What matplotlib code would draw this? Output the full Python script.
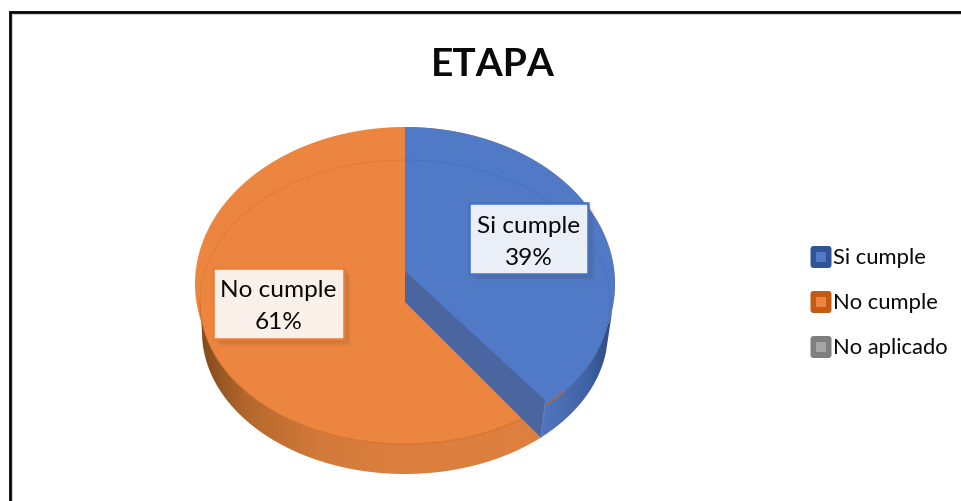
import numpy as np
import matplotlib
matplotlib.use("Agg")
import matplotlib.pyplot as plt
from matplotlib.patches import Polygon, Rectangle, FancyBboxPatch
from matplotlib.colors import LinearSegmentedColormap

title = "ETAPA"
categories = ["Si cumple", "No cumple", "No aplicado"]
values = [39, 61, 0]
top_colors = ["#5079C6", "#EC8540", "#A5A5A5"]
edge_colors = ["#2F5597", "#C55A11", "#7F7F7F"]

plt.rcParams["font.family"] = ["Lato", "DejaVu Sans"]
fig = plt.figure(figsize=(9.61, 5.02), dpi=100)
ax = fig.add_axes([0, 0, 1, 1])
W, H = 961, 502


def arc(cx, cy, rx, ry, a0, a1, n=200):
    t = np.radians(np.linspace(a0, a1, n))
    return np.column_stack([cx + rx * np.cos(t), cy - ry * np.sin(t)])


CX = 405
TOP = (CX, 285, 210, 157)
FRONT = (CX, 303, 205, 142)
BACK = (CX, 333, 203, 142)
share = values[0] / sum(values)
end = 90 - 360 * share + 2.4  # where the first slice ends, with perspective shift

# side band, orange part
band_o = np.vstack([arc(*FRONT, end, -180), arc(*BACK, -180, end)])
cm_o = LinearSegmentedColormap.from_list(
    "o", [(0, "#80491A"), (0.12, "#B5682C"), (0.3, "#D27A3A"), (0.5, "#DC7F3E"), (1, "#DE7F3E")])
im = ax.imshow(np.linspace(0, 1, 256)[None, :], cmap=cm_o, extent=[198, 600, 480, 300], aspect="auto", zorder=1)
im.set_clip_path(Polygon(band_o, transform=ax.transData))

# side band, blue part
band_b = np.vstack([arc(*TOP, end, -8), arc(*BACK, -8, end)])
cm_b = LinearSegmentedColormap.from_list("b", ["#4F76C0", "#4A6DB2", "#3F62A4", "#2E4A80"])
im2 = ax.imshow(np.linspace(0, 1, 256)[None, :], cmap=cm_b, extent=[540, 612, 480, 300], aspect="auto", zorder=1.5)
im2.set_clip_path(Polygon(band_b, transform=ax.transData))

# top faces
ax.add_patch(Polygon(arc(*TOP, 0, 360), closed=True, fc=top_colors[1], ec="none", zorder=2))
ax.add_patch(Polygon(arc(*FRONT, 0, 360), closed=True, fc=top_colors[1], ec="none", zorder=2))
ax.plot(*arc(*FRONT, 90, 180).T, color="#C9641E", lw=0.6, alpha=0.35, zorder=3)
ax.plot(*arc(*FRONT, 180, 312).T, color="#C9641E", lw=0.8, alpha=0.7, zorder=3)

apex = (CX, 272)
apex_low = (CX, 303)
blue_pts = np.vstack([[apex], arc(*TOP, 90, end)])
ax.add_patch(Polygon(blue_pts, closed=True, fc=top_colors[0], ec="none", zorder=4))
ax.add_patch(Polygon(np.vstack([[apex], arc(*FRONT, 20, end)]), closed=True,
                     fc=top_colors[0], ec="none", zorder=4))
ax.plot(*arc(*FRONT, 90, -46).T, color="#3F66B0", lw=0.6, alpha=0.45, zorder=5)

# cut face of the first slice
end_pt = arc(*TOP, end, end, 1)[0]
low_pt = arc(*BACK, end, end, 1)[0]
ax.add_patch(Polygon([apex, apex_low, low_pt, end_pt], closed=True, fc="#4A659F", ec="none", zorder=5))
ax.plot(*arc(*FRONT, -39, -47).T, color="#C9641E", lw=0.9, zorder=6)
ax.plot([end_pt[0], low_pt[0]], [end_pt[1], low_pt[1]], color="#5C80C4", lw=0.8, zorder=6)


def label_box(x0, y0, x1, y1, fc, ec, text, size, dy):
    for d, a in [(7, 0.05), (5, 0.07), (3, 0.09)]:
        ax.add_patch(Rectangle((x0 + d, y0 + d), x1 - x0, y1 - y0, fc="#3A3A3A", ec="none", alpha=a, zorder=7))
    ax.add_patch(Rectangle((x0, y0), x1 - x0, y1 - y0, fc=fc, ec=ec, lw=1.8, zorder=8))
    ax.text((x0 + x1) / 2, (y0 + y1) / 2 + dy, text, ha="center", va="center", fontsize=size,
            linespacing=1.67, color="#0A0A0A", zorder=9)


label_box(469, 204, 588, 275, "#EAEEF6", "#4472C4",
          f"{categories[0]}\n{values[0]}%", 17.6, 3)
label_box(213, 269, 344, 340, "#FAF0EA", "#ED7D31",
          f"{categories[1]}\n{values[1]}%", 17.6, 2)

# title
ax.text(493, 65, title, ha="center", va="center", fontsize=28, fontweight="bold", color="#0A0A0A", zorder=9)

# legend
legend_y = [258, 303, 348]
for name, fc, ec, y in zip(categories, top_colors, edge_colors, legend_y):
    ax.add_patch(FancyBboxPatch((812, y - 9.5), 18, 19, boxstyle="round,pad=1.5,rounding_size=3",
                                fc=ec, ec="none", zorder=5))
    ax.add_patch(Rectangle((816, y - 5), 10, 10, fc=fc, ec="none", zorder=6))
    ax.text(833, y, name, ha="left", va="center", fontsize=15.8, color="#0A0A0A", zorder=6)

# chart frame
ax.plot([10, 10, W], [H, 13, 13], color="#000000", lw=2.0, solid_joinstyle="miter", zorder=10)
ax.plot([12, 12, W], [H, 15, 15], color="#CFCFCF", lw=0.8, zorder=10)

ax.set_xlim(0, W)
ax.set_ylim(H, 0)
ax.axis("off")
fig.savefig("out.png", dpi=100)
